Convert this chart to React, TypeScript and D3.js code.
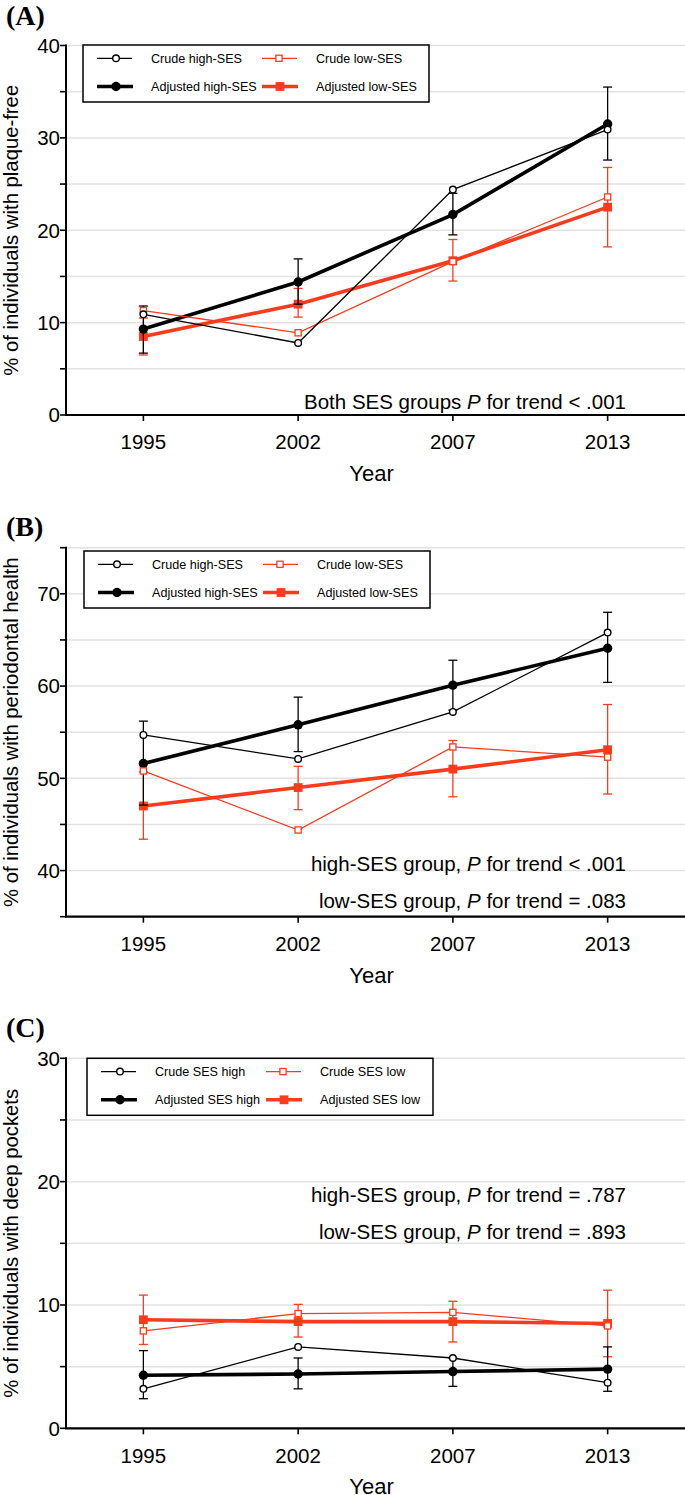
import React from 'react';
import * as d3 from 'd3';

const years = ['1995', '2002', '2007', '2013'];

// Panel A – plaque-free
const aCrudeHigh = [10.9, 7.8, 24.4, 30.9];
const aCrudeLow = [11.3, 8.9, 16.6, 23.6];
const aAdjHigh = [9.3, 14.4, 21.7, 31.5];
const aAdjHighLo = [6.7, 12.0, 19.5, 27.6];
const aAdjHighHi = [11.8, 16.9, 24.0, 35.5];
const aAdjLow = [8.5, 12.0, 16.7, 22.5];
const aAdjLowLo = [6.5, 10.6, 14.5, 18.2];
const aAdjLowHi = [10.5, 13.7, 19.0, 26.8];

// Panel B – periodontal health
const bCrudeHigh = [54.7, 52.1, 57.2, 65.8];
const bCrudeLow = [50.8, 44.4, 53.4, 52.3];
const bAdjHigh = [51.6, 55.8, 60.1, 64.1];
const bAdjHighLo = [47.1, 52.9, 57.4, 60.4];
const bAdjHighHi = [56.2, 58.8, 62.8, 68.0];
const bAdjLow = [47.0, 49.0, 51.0, 53.1];
const bAdjLowLo = [43.4, 46.6, 48.0, 48.3];
const bAdjLowHi = [50.7, 51.3, 54.1, 58.0];

// Panel C – deep pockets
const cCrudeHigh = [3.2, 6.6, 5.7, 3.7];
const cCrudeLow = [7.9, 9.3, 9.4, 8.3];
const cAdjHigh = [4.3, 4.4, 4.6, 4.8];
const cAdjHighLo = [2.4, 3.2, 3.4, 3.0];
const cAdjHighHi = [6.3, 5.7, 5.7, 6.6];
const cAdjLow = [8.8, 8.65, 8.65, 8.5];
const cAdjLowLo = [6.8, 7.4, 7.0, 5.8];
const cAdjLowHi = [10.8, 10.05, 10.3, 11.2];

const legendAB = ['Crude high-SES', 'Crude low-SES', 'Adjusted high-SES', 'Adjusted low-SES'];
const legendC = ['Crude SES high', 'Crude SES low', 'Adjusted SES high', 'Adjusted SES low'];

const yLabelA = '% of individuals with plaque-free';
const yLabelB = '% of individuals with periodontal health';
const yLabelC = '% of individuals with deep pockets';

const notesA = [['Both SES groups ', 'P', ' for trend < .001']];
const notesB = [
  ['high-SES group, ', 'P', ' for trend < .001'],
  ['low-SES group, ', 'P', ' for trend = .083'],
];
const notesC = [
  ['high-SES group, ', 'P', ' for trend = .787'],
  ['low-SES group, ', 'P', ' for trend = .893'],
];

const W = 685;
const H = 1495;
const AX_LEFT = 66;
const AX_RIGHT = 685;
const RED = '#f93b1d';
const GRID = '#e2e2e2';
const FONT = '"Liberation Sans", Arial, Helvetica, sans-serif';

type PanelCfg = {
  label: string;
  labelY: number;
  top: number;
  bottom: number;
  domain: [number, number];
  majorStart: number;
  yLabel: string;
  legend: string[];
  legendX: number;
  legendY: number;
  notes: string[][];
  notesY: number[];
  crudeHigh: number[];
  crudeLow: number[];
  adjHigh: number[];
  adjHighLo: number[];
  adjHighHi: number[];
  adjLow: number[];
  adjLowLo: number[];
  adjLowHi: number[];
};

const panels: PanelCfg[] = [
  {
    label: '(A)', labelY: 24.5, top: 45.5, bottom: 415, domain: [0, 40], majorStart: 0,
    yLabel: yLabelA, legend: legendAB, legendX: 83, legendY: 45, notes: notesA, notesY: [409],
    crudeHigh: aCrudeHigh, crudeLow: aCrudeLow, adjHigh: aAdjHigh, adjHighLo: aAdjHighLo,
    adjHighHi: aAdjHighHi, adjLow: aAdjLow, adjLowLo: aAdjLowLo, adjLowHi: aAdjLowHi,
  },
  {
    label: '(B)', labelY: 535.5, top: 547.7, bottom: 916.7, domain: [35, 75], majorStart: 40,
    yLabel: yLabelB, legend: legendAB, legendX: 84, legendY: 551, notes: notesB, notesY: [870.5, 907.5],
    crudeHigh: bCrudeHigh, crudeLow: bCrudeLow, adjHigh: bAdjHigh, adjHighLo: bAdjHighLo,
    adjHighHi: bAdjHighHi, adjLow: bAdjLow, adjLowLo: bAdjLowLo, adjLowHi: bAdjLowHi,
  },
  {
    label: '(C)', labelY: 1037, top: 1058.3, bottom: 1428.3, domain: [0, 30], majorStart: 0,
    yLabel: yLabelC, legend: legendC, legendX: 87, legendY: 1058.3, notes: notesC, notesY: [1201.5, 1238.5],
    crudeHigh: cCrudeHigh, crudeLow: cCrudeLow, adjHigh: cAdjHigh, adjHighLo: cAdjHighLo,
    adjHighHi: cAdjHighHi, adjLow: cAdjLow, adjLowLo: cAdjLowLo, adjLowHi: cAdjLowHi,
  },
];

const CRUDE_W = 1.3;
const ADJ_W = 3.6;

function CrudeHighMarker({ cx, cy }: { cx: number; cy: number }) {
  return <circle cx={cx} cy={cy} r={3.3} fill="#fff" stroke="#000" strokeWidth={1.4} />;
}
function CrudeLowMarker({ cx, cy }: { cx: number; cy: number }) {
  return <rect x={cx - 3.1} y={cy - 3.1} width={6.2} height={6.2} fill="#fff" stroke={RED} strokeWidth={1.3} />;
}
function AdjHighMarker({ cx, cy }: { cx: number; cy: number }) {
  return <circle cx={cx} cy={cy} r={4.7} fill="#000" />;
}
function AdjLowMarker({ cx, cy }: { cx: number; cy: number }) {
  return <rect x={cx - 4.4} y={cy - 4.4} width={8.8} height={8.8} fill={RED} />;
}

function Panel({ cfg }: { cfg: PanelCfg }) {
  const x = d3.scalePoint<string>().domain(years).range([AX_LEFT, AX_RIGHT]).padding(0.5);
  const y = d3.scaleLinear().domain(cfg.domain).range([cfg.bottom, cfg.top]);
  const minor = d3.range(cfg.domain[0], cfg.domain[1] + 0.01, 5);
  const major = d3.range(cfg.majorStart, cfg.domain[1] + 0.01, 10);
  const line = d3
    .line<number>()
    .x((_, i) => x(years[i]) as number)
    .y((d) => y(d));

  const errBars = (lo: number[], hi: number[], color: string, key: string) =>
    years.map((yr, i) => {
      const cx = x(yr) as number;
      return (
        <g key={key + i} stroke={color} strokeWidth={1.3}>
          <line x1={cx} x2={cx} y1={y(lo[i])} y2={y(hi[i])} />
          <line x1={cx - 4.5} x2={cx + 4.5} y1={y(lo[i])} y2={y(lo[i])} />
          <line x1={cx - 4.5} x2={cx + 4.5} y1={y(hi[i])} y2={y(hi[i])} />
        </g>
      );
    });

  const midY = (cfg.top + cfg.bottom) / 2;
  const midX = (AX_LEFT + AX_RIGHT) / 2 - 4;
  const lx = cfg.legendX;
  const ly = cfg.legendY;
  const r1 = ly + 13.3;
  const r2 = ly + 41.5;

  return (
    <g>
      <text x={6} y={cfg.labelY} fontFamily='"Liberation Serif", "Times New Roman", serif' fontWeight="bold" fontSize={28}>
        {cfg.label}
      </text>
      {/* grid */}
      {minor
        .filter((v) => v !== cfg.domain[0])
        .map((v) => (
          <line key={'g' + v} x1={AX_LEFT} x2={AX_RIGHT} y1={y(v)} y2={y(v)} stroke={GRID} strokeWidth={1.5} />
        ))}
      {/* y axis */}
      <line x1={AX_LEFT} x2={AX_LEFT} y1={cfg.top - 1} y2={cfg.bottom} stroke="#000" strokeWidth={2} />
      {minor.map((v) => (
        <line key={'t' + v} x1={AX_LEFT - 6} x2={AX_LEFT} y1={y(v)} y2={y(v)} stroke="#000" strokeWidth={1.6} />
      ))}
      {major.map((v) => (
        <text key={'l' + v} x={AX_LEFT - 6} y={y(v)} dy="0.36em" textAnchor="end" fontFamily={FONT} fontSize={20.5}>
          {v}
        </text>
      ))}
      {/* x axis */}
      <line x1={AX_LEFT - 1} x2={AX_RIGHT} y1={cfg.bottom} y2={cfg.bottom} stroke="#000" strokeWidth={2.2} />
      {years.map((yr) => (
        <g key={'x' + yr}>
          <line x1={x(yr)} x2={x(yr)} y1={cfg.bottom} y2={cfg.bottom + 6} stroke="#000" strokeWidth={1.6} />
          <text x={x(yr)} y={cfg.bottom + 27} dy="0.36em" textAnchor="middle" fontFamily={FONT} fontSize={20.5}>
            {yr}
          </text>
        </g>
      ))}
      <text x={midX} y={cfg.bottom + 58} dy="0.36em" textAnchor="middle" fontFamily={FONT} fontSize={22}>
        Year
      </text>
      <text
        transform={`translate(17.5,${midY}) rotate(-90)`}
        textAnchor="middle"
        fontFamily={FONT}
        fontSize={20.3}
      >
        {cfg.yLabel}
      </text>

      {/* series */}
      {errBars(cfg.adjLowLo, cfg.adjLowHi, RED, 'el')}
      <path d={line(cfg.adjLow) as string} fill="none" stroke={RED} strokeWidth={ADJ_W} />
      {cfg.adjLow.map((v, i) => (
        <AdjLowMarker key={'al' + i} cx={x(years[i]) as number} cy={y(v)} />
      ))}
      {errBars(cfg.adjHighLo, cfg.adjHighHi, '#000', 'eh')}
      <path d={line(cfg.adjHigh) as string} fill="none" stroke="#000" strokeWidth={ADJ_W} />
      {cfg.adjHigh.map((v, i) => (
        <AdjHighMarker key={'ah' + i} cx={x(years[i]) as number} cy={y(v)} />
      ))}
      <path d={line(cfg.crudeLow) as string} fill="none" stroke={RED} strokeWidth={CRUDE_W} />
      {cfg.crudeLow.map((v, i) => (
        <CrudeLowMarker key={'cl' + i} cx={x(years[i]) as number} cy={y(v)} />
      ))}
      <path d={line(cfg.crudeHigh) as string} fill="none" stroke="#000" strokeWidth={CRUDE_W} />
      {cfg.crudeHigh.map((v, i) => (
        <CrudeHighMarker key={'ch' + i} cx={x(years[i]) as number} cy={y(v)} />
      ))}

      {/* legend */}
      <rect x={lx} y={ly} width={346} height={57} fill="#fff" stroke="#000" strokeWidth={1.5} />
      <g fontFamily={FONT} fontSize={12.6}>
        <line x1={lx + 14} x2={lx + 49} y1={r1} y2={r1} stroke="#000" strokeWidth={CRUDE_W} />
        <CrudeHighMarker cx={lx + 33} cy={r1} />
        <text x={lx + 68} y={r1} dy="0.35em">{cfg.legend[0]}</text>
        <line x1={lx + 179} x2={lx + 214} y1={r1} y2={r1} stroke={RED} strokeWidth={CRUDE_W} />
        <CrudeLowMarker cx={lx + 196} cy={r1} />
        <text x={lx + 233} y={r1} dy="0.35em">{cfg.legend[1]}</text>
        <line x1={lx + 14} x2={lx + 50} y1={r2} y2={r2} stroke="#000" strokeWidth={ADJ_W} />
        <AdjHighMarker cx={lx + 33} cy={r2} />
        <text x={lx + 68} y={r2} dy="0.35em">{cfg.legend[2]}</text>
        <line x1={lx + 179} x2={lx + 215} y1={r2} y2={r2} stroke={RED} strokeWidth={ADJ_W} />
        <AdjLowMarker cx={lx + 197} cy={r2} />
        <text x={lx + 233} y={r2} dy="0.35em">{cfg.legend[3]}</text>
      </g>

      {/* annotations */}
      {cfg.notes.map((n, i) => (
        <text key={'n' + i} x={626} y={cfg.notesY[i]} textAnchor="end" fontFamily={FONT} fontSize={20.5}>
          <tspan>{n[0]}</tspan>
          <tspan fontStyle="italic">{n[1]}</tspan>
          <tspan>{n[2]}</tspan>
        </text>
      ))}
    </g>
  );
}

export default function App() {
  return (
    <svg
      width={W}
      height={H}
      viewBox={`0 0 ${W} ${H}`}
      style={{ position: 'absolute', left: 0, top: 0, background: '#fff' }}
    >
      <rect x={0} y={0} width={W} height={H} fill="#fff" />
      {panels.map((p) => (
        <Panel key={p.label} cfg={p} />
      ))}
    </svg>
  );
}
